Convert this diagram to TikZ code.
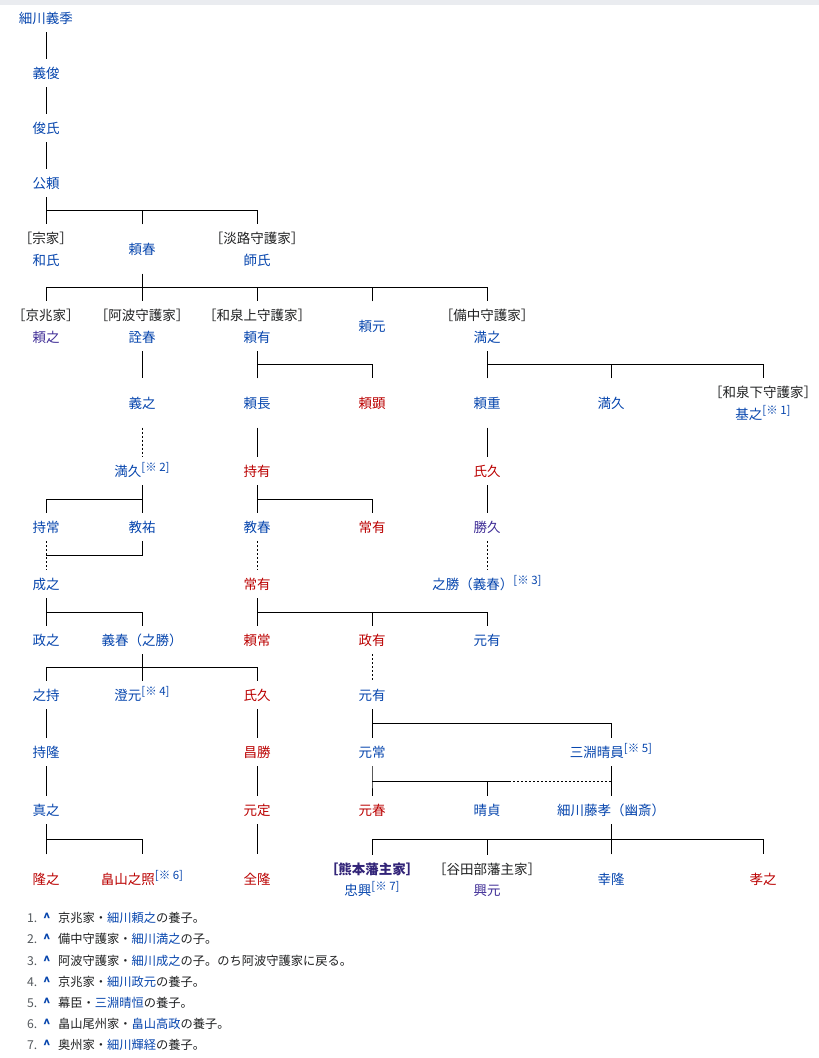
\documentclass[tikz,border=0pt]{standalone}
\usepackage{fontspec}
\setmainfont{Noto Sans CJK JP}
\usetikzlibrary{calc,positioning}
\definecolor{wlink}{HTML}{0645AD}
\definecolor{wvisit}{HTML}{3F2D96}
\definecolor{wred}{HTML}{BA0000}
\definecolor{wtext}{HTML}{202122}
\definecolor{wgrey}{HTML}{54595D}
\definecolor{topbar}{HTML}{EAECF0}
\newcommand{\refmark}[1]{\textcolor{wlink}{\raisebox{5pt}{\fontsize{11.5}{13}\selectfont[※ #1]}}}

\begin{document}
\begin{tikzpicture}[x=1pt,y=-1pt,
    pers/.style={inner sep=0pt,font=\fontsize{13.5}{16}\selectfont,text=wlink,text height=19.1pt,text depth=8.9pt},
    tall/.style={pers,text height=29.6pt,text depth=19.4pt},
    house/.style={pers,text=wtext},
    redlink/.style={text=wred},
    visited/.style={text=wvisit},
    fam/.style={line width=1pt},
    adopt/.style={fam,dash pattern=on 2pt off 2pt},
    fn/.style={anchor=west,inner sep=0pt,font=\fontsize{12.25}{14}\selectfont,text=wtext,text height=11.6pt,text depth=2.4pt}]
  \useasboundingbox (0,0) rectangle (819,1058);
  \fill[topbar] (0,0) rectangle (819,5);

  \node[pers] (yoshisue) at (46,18) {細川義季};
  \node[pers] (yoshitoshi) at (46,73) {義俊};
  \node[pers] (toshiuji) at (46,128) {俊氏};
  \node[pers] (kinyori) at (46,183) {公頼};

  \node[house] (soke) at (46,238) {［宗家］};
  \node[pers] (kazuuji) at (46,260) {和氏};
  \node[tall] (yoriharu) at (142,249) {頼春};
  \node[house] (awaji) at (257,238) {［淡路守護家］};
  \node[pers] (moroji) at (257,260) {師氏};

  \node[house] (keicho) at (46,315) {［京兆家］};
  \node[pers,visited] (yoriyuki) at (46,337) {頼之};
  \node[house] (awa) at (142,315) {［阿波守護家］};
  \node[pers] (akiharu) at (142,337) {詮春};
  \node[house] (izumikami) at (257,315) {［和泉上守護家］};
  \node[pers] (yoriari) at (257,337) {頼有};
  \node[tall] (yorimoto) at (372,326) {頼元};
  \node[house] (bitchu) at (487,315) {［備中守護家］};
  \node[pers] (mitsuyuki) at (487,337) {満之};

  \node[tall] (yoshiyuki) at (142,403) {義之};
  \node[tall] (yorinaga) at (257,403) {頼長};
  \node[tall,redlink] (yoriaki) at (372,403) {頼顕};
  \node[tall] (yorishige) at (487,403) {頼重};
  \node[tall] (mitsuhisaB) at (611,403) {満久};
  \node[house] (izumishimo) at (763,392) {［和泉下守護家］};
  \node[pers] (motoyuki) at (763,414) {基之\refmark{1}};

  \node[pers] (mitsuhisa) at (142,471) {満久\refmark{2}};
  \node[pers,redlink] (mochiari) at (257,471) {持有};
  \node[pers,redlink] (ujihisa) at (487,471) {氏久};

  \node[pers] (mochitsune) at (46,527) {持常};
  \node[pers] (norisuke) at (142,527) {教祐};
  \node[pers] (noriharu) at (257,527) {教春};
  \node[pers,redlink] (tsuneariA) at (372,527) {常有};
  \node[pers,visited] (katsuhisa) at (487,527) {勝久};

  \node[pers] (shigeyuki) at (46,584) {成之};
  \node[pers,redlink] (tsuneari) at (257,584) {常有};
  \node[pers] (yukikatsu) at (487,584) {之勝（義春）\refmark{3}};

  \node[pers] (masayuki) at (46,640) {政之};
  \node[pers] (yoshiharu) at (142,640) {義春（之勝）};
  \node[pers,redlink] (yoritsune) at (257,640) {頼常};
  \node[pers,redlink] (masaari) at (372,640) {政有};
  \node[pers] (motoariA) at (487,640) {元有};

  \node[pers] (yukimochi) at (46,695) {之持};
  \node[pers] (sumimoto) at (142,695) {澄元\refmark{4}};
  \node[pers,redlink] (ujihisaB) at (257,695) {氏久};
  \node[pers] (motoari) at (372,695) {元有};

  \node[pers] (mochitaka) at (46,752) {持隆};
  \node[pers,redlink] (masakatsu) at (257,752) {昌勝};
  \node[pers] (mototsune) at (372,752) {元常};
  \node[pers] (harukazu) at (611,752) {三淵晴員\refmark{5}};

  \node[pers] (saneyuki) at (46,810) {真之};
  \node[pers,redlink] (motosada) at (257,810) {元定};
  \node[pers,redlink] (motoharu) at (372,810) {元春};
  \node[pers] (harusada) at (487,810) {晴貞};
  \node[pers] (fujitaka) at (611,810) {細川藤孝（幽斎）};

  \node[tall,redlink] (takayuki) at (46,879) {隆之};
  \node[tall,redlink] (yukiteru) at (142,879) {畠山之照\refmark{6}};
  \node[tall,redlink] (zenryu) at (257,879) {全隆};
  \node[house,text=wvisit!80!black,font=\fontsize{13.5}{16}\selectfont\bfseries] (kumamoto) at (372,869) {［熊本藩主家］};
  \node[pers] (tadaoki) at (372,890) {忠興\refmark{7}};
  \node[house] (yatabe) at (487,869) {［谷田部藩主家］};
  \node[pers,visited] (okimoto) at (487,890) {興元};
  \node[tall] (yukitaka) at (611,879) {幸隆};
  \node[tall,redlink] (takayukiB) at (763,879) {孝之};

  \foreach \a/\b in {yoshisue/yoshitoshi,yoshitoshi/toshiuji,toshiuji/kinyori,akiharu/yoshiyuki,
      yorinaga/mochiari,yorishige/ujihisa,ujihisa/katsuhisa,yukimochi/mochitaka,mochitaka/saneyuki,
      ujihisaB/masakatsu,masakatsu/motosada,motosada/zenryu,harukazu/fujitaka}
    \draw[fam] (\a) -- (\b);
  \foreach \a/\b in {yoshiyuki/mitsuhisa,mochitsune/shigeyuki,noriharu/tsuneari,katsuhisa/yukikatsu,masaari/motoari}
    \draw[adopt] (\a) -- (\b);

  \foreach \p/\l/\r in {kinyori/soke/awaji,yoriharu/keicho/bitchu,yoriari/yorinaga/yoriaki,
      mitsuyuki/yorishige/izumishimo,mitsuhisa/mochitsune/norisuke,mochiari/noriharu/tsuneariA,
      shigeyuki/masayuki/yoshiharu,tsuneari/yoritsune/motoariA,yoshiharu/yukimochi/ujihisaB,
      motoari/mototsune/harukazu,saneyuki/takayuki/yukiteru,fujitaka/kumamoto/takayukiB}{
    \coordinate (bar\p) at ($(\p.south)!.5!(\p.south |- \l.north)$);
    \draw[fam] (\p.south) -- (bar\p) (\l.north) |- (bar\p) -| (\r.north);
  }
  \foreach \p/\c in {kinyori/yoriharu,yoriharu/awa,yoriharu/izumikami,yoriharu/yorimoto,
      mitsuyuki/mitsuhisaB,tsuneari/masaari,yoshiharu/sumimoto,fujitaka/yatabe,fujitaka/yukitaka}
    \draw[fam] (\c.north) -- (\c.north |- bar\p);

  \coordinate (join) at ($(mochitsune.south)!.5!(shigeyuki.north)$);
  \draw[fam] (norisuke.south) |- (join);

  \coordinate (barmototsune) at ($(mototsune.south)!.5!(motoharu.north)$);
  \draw[fam] (mototsune.south) -- (barmototsune) -- (motoharu.north) (barmototsune) -| (harusada.north);
  \draw[fam] (barmototsune -| harusada.north) -- ++(22,0) coordinate (dashfrom);
  \draw[adopt] (dashfrom) -- (dashfrom -| fujitaka.north);

  \foreach \i/\pre/\who/\post in {1/京兆家・/細川頼之/の養子。,2/備中守護家・/細川満之/の子。,
      3/阿波守護家・/細川成之/の子。のち阿波守護家に戻る。,4/京兆家・/細川政元/の養子。,
      5/幕臣・/三淵晴恒/の養子。,6/畠山尾州家・/畠山高政/の養子。,7/奥州家・/細川輝経/の養子。}
    \node[fn] (note\i) at (27,{918+21.2*(\i-1)})
      {\makebox[16pt][l]{\textcolor{wgrey}{\i.}}\makebox[15pt][l]{\textcolor{wlink}{\bfseries\textasciicircum}}\pre\textcolor{wlink}{\who}\post};
\end{tikzpicture}
\end{document}
